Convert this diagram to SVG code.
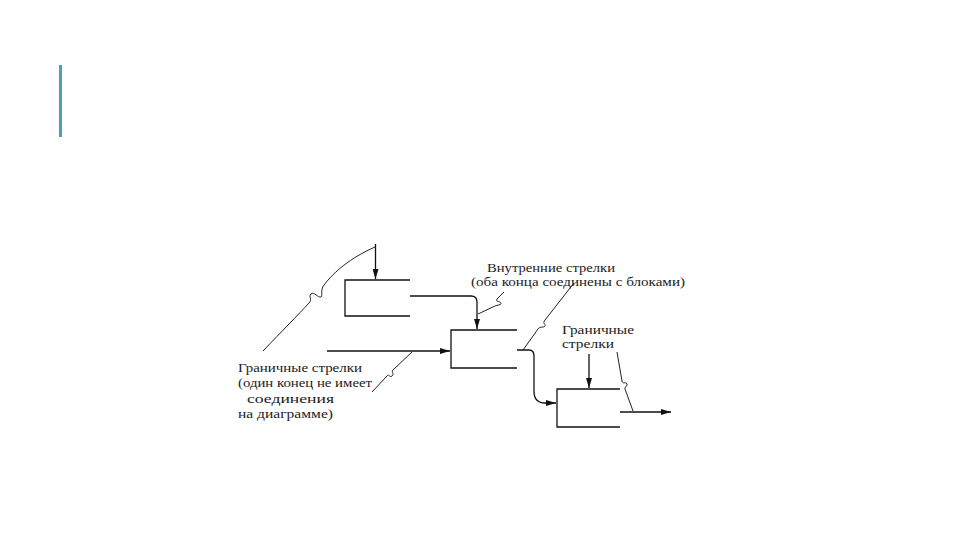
<svg xmlns="http://www.w3.org/2000/svg" width="960" height="540" viewBox="0 0 960 540">
<style>
.box{fill:none;stroke:#111;stroke-width:1.3}
.ln{fill:none;stroke:#111;stroke-width:1.3}
.ld{fill:none;stroke:#222;stroke-width:1}
text{font-family:"Liberation Serif","DejaVu Serif",serif;font-size:13.5px;fill:#222}
</style>
<defs>
<marker id="ah" viewBox="0 0 10 6" refX="10" refY="3" markerWidth="10" markerHeight="6" markerUnits="userSpaceOnUse" orient="auto">
<path d="M0,0L10,3L0,6Z" fill="#111"/>
</marker>
</defs>
<rect x="59" y="65" width="3" height="72" fill="#4a9fc0"/>
<g id="box1"><path class="box" d="M410,280H345V316H410"/></g>
<g id="box2"><path class="box" d="M517,330H451V368H517"/></g>
<g id="box3"><path class="box" d="M620,389H557V427H620"/></g>
<g id="connectors">
<path class="ln" d="M375.5,244V279" marker-end="url(#ah)"/>
<path class="ln" d="M410,296H471Q477,296 477,302V329" marker-end="url(#ah)"/>
<path class="ln" d="M327,351H450" marker-end="url(#ah)"/>
<path class="ln" d="M517,350H529Q534,350 534,356V391Q534,403 545,403H556" marker-end="url(#ah)"/>
<path class="ln" d="M589,354V388" marker-end="url(#ah)"/>
<path class="ln" d="M620,412H671" marker-end="url(#ah)"/>
<path class="ld" d="M263,351C282,331 298,315 309,303C313,299 308,297 311,294C314,291 318,298 321,297C323,296 320,290 324,285C334,272 350,258 375,247"/>
<path class="ld" d="M372,392L387,376C389,373 389,378 392,376C395,374 390,371 394,369L412,352"/>
<path class="ld" d="M504,292L497,299C495,302 500,301 501,303C502,305 497,305 495,306L478,314"/>
<path class="ld" d="M574,283L545,320C542,324 546,324 545,326C544,328 540,326 538,329L523,350"/>
<path class="ld" d="M617,352L622,381C623,385 626,381 627,384C628,387 624,386 625,389L633,411"/>
</g>
<g id="labels">
<text x="238" y="372" textLength="124" lengthAdjust="spacingAndGlyphs">Граничные стрелки</text>
<text x="238" y="387" textLength="134" lengthAdjust="spacingAndGlyphs">(один конец не имеет</text>
<text x="247" y="403" textLength="87" lengthAdjust="spacingAndGlyphs">соединения</text>
<text x="238" y="418" textLength="95" lengthAdjust="spacingAndGlyphs">на диаграмме)</text>
<text x="487" y="272" textLength="128" lengthAdjust="spacingAndGlyphs">Внутренние стрелки</text>
<text x="471" y="286" textLength="214" lengthAdjust="spacingAndGlyphs">(оба конца соединены с блоками)</text>
<text x="562" y="334" textLength="72" lengthAdjust="spacingAndGlyphs">Граничные</text>
<text x="562" y="348" textLength="52" lengthAdjust="spacingAndGlyphs">стрелки</text>
</g>
</svg>
